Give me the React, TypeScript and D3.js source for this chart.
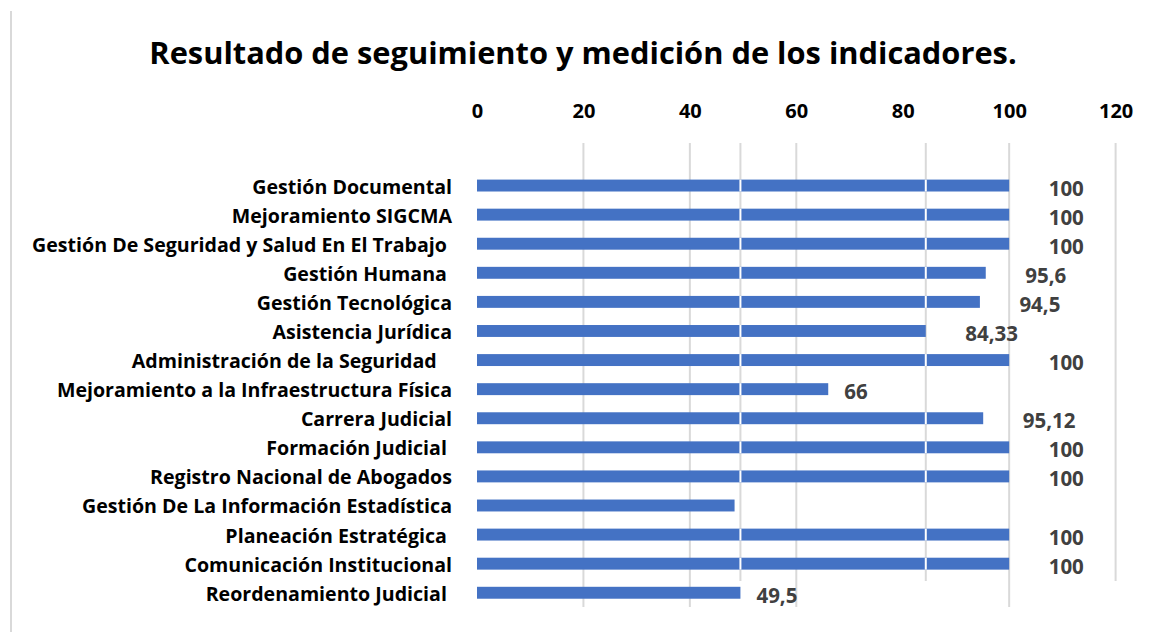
import React, { useEffect, useRef } from 'react';
import * as d3 from 'd3';

const categories = [
  'Gestión Documental',
  'Mejoramiento SIGCMA',
  'Gestión De Seguridad y Salud En El Trabajo ',
  'Gestión Humana ',
  'Gestión Tecnológica',
  'Asistencia Jurídica',
  'Administración de la Seguridad   ',
  'Mejoramiento a la Infraestructura Física',
  'Carrera Judicial',
  'Formación Judicial ',
  'Registro Nacional de Abogados',
  'Gestión De La Información Estadística',
  'Planeación Estratégica ',
  'Comunicación Institucional',
  'Reordenamiento Judicial ',
];
const values = [100, 100, 100, 95.6, 94.5, 84.33, 100, 66, 95.12, 100, 100, 48.4, 100, 100, 49.5];
// the Estadística bar has no data label in the original
const showLabel = [true, true, true, true, true, true, true, true, true, true, true, false, true, true, true];
const xTicks = [0, 20, 40, 60, 80, 100, 120];
const longGrid = [20, 40, 60, 100];
const shortGrid = [120];
const seams = [49.5, 84.33]; // stray split lines visible across the bars

const TITLE = 'Resultado de seguimiento y medición de los indicadores.';
const FONT = '"Open Sans", Lato, sans-serif';

const App = () => {
  const svgRef = useRef<SVGSVGElement>(null);
  const width = 1152;
  const height = 632;

  useEffect(() => {
    const svg = d3.select(svgRef.current);
    svg.selectAll('*').remove();

    const x = d3.scaleLinear().domain([0, 120]).range([477, 1115.6]);
    const y = d3
      .scaleBand<string>()
      .domain(categories)
      .range([171, 607.3])
      .paddingInner(0.59)
      .paddingOuter(0.295);

    const gridTop = 143;

    // frame line on the left
    svg
      .append('line')
      .attr('x1', 11)
      .attr('x2', 11)
      .attr('y1', 11)
      .attr('y2', height)
      .attr('stroke', '#d9d9d9')
      .attr('stroke-width', 2);

    // Title
    svg
      .append('text')
      .attr('x', 583)
      .attr('y', 64)
      .attr('text-anchor', 'middle')
      .attr('font-family', FONT)
      .attr('font-weight', 'bold')
      .attr('font-size', 30.8)
      .attr('fill', '#000')
      .text(TITLE);

    // Grid lines
    const grid = svg.append('g');
    grid
      .selectAll('.long')
      .data(longGrid)
      .enter()
      .append('line')
      .attr('x1', (d) => x(d))
      .attr('x2', (d) => x(d))
      .attr('y1', gridTop)
      .attr('y2', 607)
      .attr('stroke', '#d9d9d9')
      .attr('stroke-width', 2);
    grid
      .selectAll('.short')
      .data([...shortGrid, ...seams])
      .enter()
      .append('line')
      .attr('x1', (d) => x(d))
      .attr('x2', (d) => x(d))
      .attr('y1', gridTop)
      .attr('y2', 581)
      .attr('stroke', '#d9d9d9')
      .attr('stroke-width', 2);

    // Top axis tick labels
    const xAxis = d3.axisTop(x).tickValues(xTicks).tickSize(0).tickPadding(0);
    const xAxisGroup = svg
      .append('g')
      .attr('transform', 'translate(0, 118)')
      .call(xAxis);
    xAxisGroup.select('.domain').remove();
    xAxisGroup
      .selectAll('text')
      .attr('fill', '#000')
      .attr('dy', 0)
      .attr('font-family', FONT)
      .attr('font-weight', 'bold')
      .attr('font-size', 20);

    // Bars
    const rows = categories.map((c, i) => ({ c, v: values[i], show: showLabel[i] }));
    svg
      .append('g')
      .selectAll('rect')
      .data(rows)
      .enter()
      .append('rect')
      .attr('x', x(0))
      .attr('y', (d) => y(d.c) as number)
      .attr('width', (d) => x(d.v) - x(0))
      .attr('height', y.bandwidth())
      .attr('fill', '#4472c4');

    // white split marks through the bars
    const seamG = svg.append('g');
    seams.forEach((s) => {
      seamG
        .selectAll(null)
        .data(rows.filter((d) => d.v > s))
        .enter()
        .append('rect')
        .attr('x', x(s) - 1)
        .attr('y', (d) => y(d.c) as number)
        .attr('width', 2)
        .attr('height', y.bandwidth())
        .attr('fill', '#fff');
    });

    // Category labels
    svg
      .append('g')
      .selectAll('text')
      .data(rows)
      .enter()
      .append('text')
      .attr('x', 452)
      .attr('y', (d) => (y(d.c) as number) + y.bandwidth() / 2 + 8)
      .attr('text-anchor', 'end')
      .attr('font-family', FONT)
      .attr('font-weight', 'bold')
      .attr('font-size', 19.6)
      .attr('fill', '#000')
      .style('white-space', 'pre')
      .text((d) => d.c);

    // Value labels
    svg
      .append('g')
      .selectAll('text')
      .data(rows.filter((d) => d.show))
      .enter()
      .append('text')
      .attr('x', (d) => x(d.v) + (d.v < 70 ? 16 : 39.5))
      .attr('y', (d) => (y(d.c) as number) + y.bandwidth() / 2 + 10)
      .attr('font-family', FONT)
      .attr('font-weight', 'bold')
      .attr('font-size', 20.5)
      .attr('fill', '#404040')
      .text((d) => String(d.v).replace('.', ','));
  }, []);

  return (
    <svg
      ref={svgRef}
      width={width}
      height={height}
      style={{ position: 'absolute', left: 0, top: 0, background: '#fff' }}
    />
  );
};

export default App;
